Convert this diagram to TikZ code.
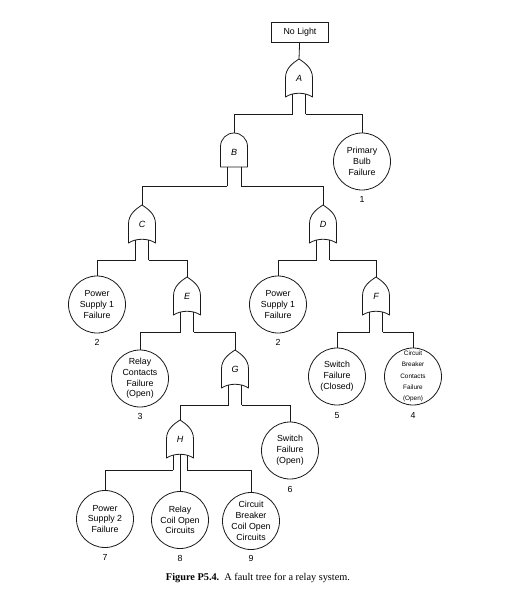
\documentclass[tikz,border=0pt]{standalone}
\usepackage{fontspec}
\setmainfont{Liberation Sans}
\newfontfamily\capfont{Liberation Serif}
\usepackage{tikz}
\usetikzlibrary{positioning,calc}
\definecolor{ink}{HTML}{1A1A1A}
\tikzset{
  gateline/.style={ink,line width=0.8pt,line join=round},
  wire/.style={ink,line width=0.8pt},
  event/.style={circle,draw=ink,line width=0.8pt,minimum size=57pt,inner sep=0pt,align=center,
    font=\fontsize{8.8}{10.8}\selectfont},
  smallevent/.style={event,font=\fontsize{6.4}{11.2}\selectfont},
  gatelbl/.style={inner sep=0pt,font=\fontsize{9}{10}\selectfont\itshape},
  numlbl/.style={inner sep=0pt,font=\fontsize{8.8}{10}\selectfont},
  topbox/.style={rectangle,draw=ink,line width=0.8pt,minimum width=57pt,minimum height=20pt,
    inner sep=1pt,font=\fontsize{8.8}{10}\selectfont}
}
% OR gate: name, centre x, apex y
\newcommand{\orgate}[3]{%
  \draw[gateline] ({#2-13.5},{#3+38}) -- ({#2-13.5},{#3+19})
    .. controls ({#2-13.5},{#3+9}) and ({#2-6},{#3+4}) .. (#2,#3)
    .. controls ({#2+6},{#3+4}) and ({#2+13.5},{#3+9}) .. ({#2+13.5},{#3+19})
    -- ({#2+13.5},{#3+38})
    .. controls ({#2+6},{#3+33}) and ({#2-6},{#3+33}) .. cycle;
  \coordinate (#1-t) at (#2,#3);
  \node[gatelbl] (#1-lbl) at (#2,{#3+19}) {#1};
  \draw[gateline] ({#2-6.5},{#3+35}) -- ({#2-6.5},{#3+55}) coordinate (#1-l);
  \draw[gateline] ({#2+6.5},{#3+35}) -- ({#2+6.5},{#3+55}) coordinate (#1-r);
}
% OR gate with three inputs
\newcommand{\orgatethree}[3]{%
  \draw[gateline] ({#2-13.5},{#3+38}) -- ({#2-13.5},{#3+19})
    .. controls ({#2-13.5},{#3+9}) and ({#2-6},{#3+4}) .. (#2,#3)
    .. controls ({#2+6},{#3+4}) and ({#2+13.5},{#3+9}) .. ({#2+13.5},{#3+19})
    -- ({#2+13.5},{#3+38})
    .. controls ({#2+6},{#3+33}) and ({#2-6},{#3+33}) .. cycle;
  \coordinate (#1-t) at (#2,#3);
  \node[gatelbl] (#1-lbl) at (#2,{#3+19}) {#1};
  \draw[gateline] ({#2-7},{#3+35}) -- ({#2-7},{#3+50}) coordinate (#1-l);
  \draw[gateline] (#2,{#3+34}) -- (#2,{#3+50}) coordinate (#1-m);
  \draw[gateline] ({#2+7},{#3+35}) -- ({#2+7},{#3+50}) coordinate (#1-r);
}
% AND gate: name, centre x, top y
\newcommand{\andgate}[3]{%
  \draw[gateline] ({#2-13.5},{#3+34}) -- ({#2-13.5},{#3+13.5})
    arc[start angle=180,end angle=0,radius=13.5pt]
    -- ({#2+13.5},{#3+34}) -- cycle;
  \coordinate (#1-t) at (#2,#3);
  \node[gatelbl] (#1-lbl) at (#2,{#3+19}) {#1};
  \draw[gateline] ({#2-7},{#3+34}) -- ({#2-7},{#3+53}) coordinate (#1-l);
  \draw[gateline] ({#2+7},{#3+34}) -- ({#2+7},{#3+53}) coordinate (#1-r);
}

\begin{document}
\begin{tikzpicture}[x=1pt,y=-1pt]
  \useasboundingbox[fill=white] (0,0) rectangle (509,589);
  % top event
  \node[topbox] (nolight) at (300,32) {No Light};
  % gates
  \orgate{A}{299}{59}
  \andgate{B}{234}{133}
  \orgate{C}{142}{205}
  \orgate{D}{323}{205}
  \orgate{E}{187}{277}
  \orgate{F}{376}{277}
  \orgate{G}{235}{350}
  \orgatethree{H}{180}{420}
  % basic events
  \node[event] (bulb) at (362,161.5) {Primary\\Bulb\\Failure};
  \node[event] (ps1a) at (97,304.5) {Power\\Supply 1\\Failure};
  \node[event] (ps1b) at (278,304.5) {Power\\Supply 1\\Failure};
  \node[event] (relayc) at (140,378.5) {Relay\\Contacts\\Failure\\(Open)};
  \node[event] (swc) at (337,376.5) {Switch\\Failure\\(Closed)};
  \node[smallevent] (cbc) at (413,376.5) {Circuit\\Breaker\\Contacts\\Failure\\(Open)};
  \node[event] (swo) at (290,450.5) {Switch\\Failure\\(Open)};
  \node[event] (ps2) at (105,519) {Power\\Supply 2\\Failure};
  \node[event] (coil) at (180,520) {Relay\\Coil Open\\Circuits};
  \node[event] (cbcoil) at (251,521) {Circuit\\Breaker\\Coil Open\\Circuits};
  % event numbers
  \node[numlbl,below=6pt of bulb] (bulb-n) {1};
  \node[numlbl,below=6pt of ps1a] (ps1a-n) {2};
  \node[numlbl,below=6pt of ps1b] (ps1b-n) {2};
  \node[numlbl,below=6pt of relayc] (relayc-n) {3};
  \node[numlbl,below=7pt of cbc] (cbc-n) {4};
  \node[numlbl,below=7pt of swc] (swc-n) {5};
  \node[numlbl,below=7pt of swo] (swo-n) {6};
  \node[numlbl,below=6pt of ps2] (ps2-n) {7};
  \node[numlbl,below=6pt of coil] (coil-n) {8};
  \node[numlbl,below=5pt of cbcoil] (cbcoil-n) {9};
  % connectors
  \draw[wire] (nolight) -- (A-t);
  \draw[wire] (A-l) -| (B-t);
  \draw[wire] (A-r) -| (bulb);
  \draw[wire] (B-l) -| (C-t);
  \draw[wire] (B-r) -| (D-t);
  \draw[wire] (C-l) -| (ps1a);
  \draw[wire] (C-r) -| (E-t);
  \draw[wire] (D-l) -| (ps1b);
  \draw[wire] (D-r) -| (F-t);
  \draw[wire] (E-l) -| (relayc);
  \draw[wire] (E-r) -| (G-t);
  \draw[wire] (F-l) -| (swc);
  \draw[wire] (F-r) -| (cbc);
  \draw[wire] (G-l) -| (H-t);
  \draw[wire] (G-r) -| (swo);
  \draw[wire] (H-l) -| (ps2);
  \draw[wire] (H-m) -- (coil);
  \draw[wire] (H-r) -| (cbcoil);
  % caption
  \node[font=\capfont\fontsize{10.3}{12}\selectfont] (caption) at (258,578)
    {\textbf{Figure P5.4.}\ \ A fault tree for a relay system.};
\end{tikzpicture}
\end{document}
